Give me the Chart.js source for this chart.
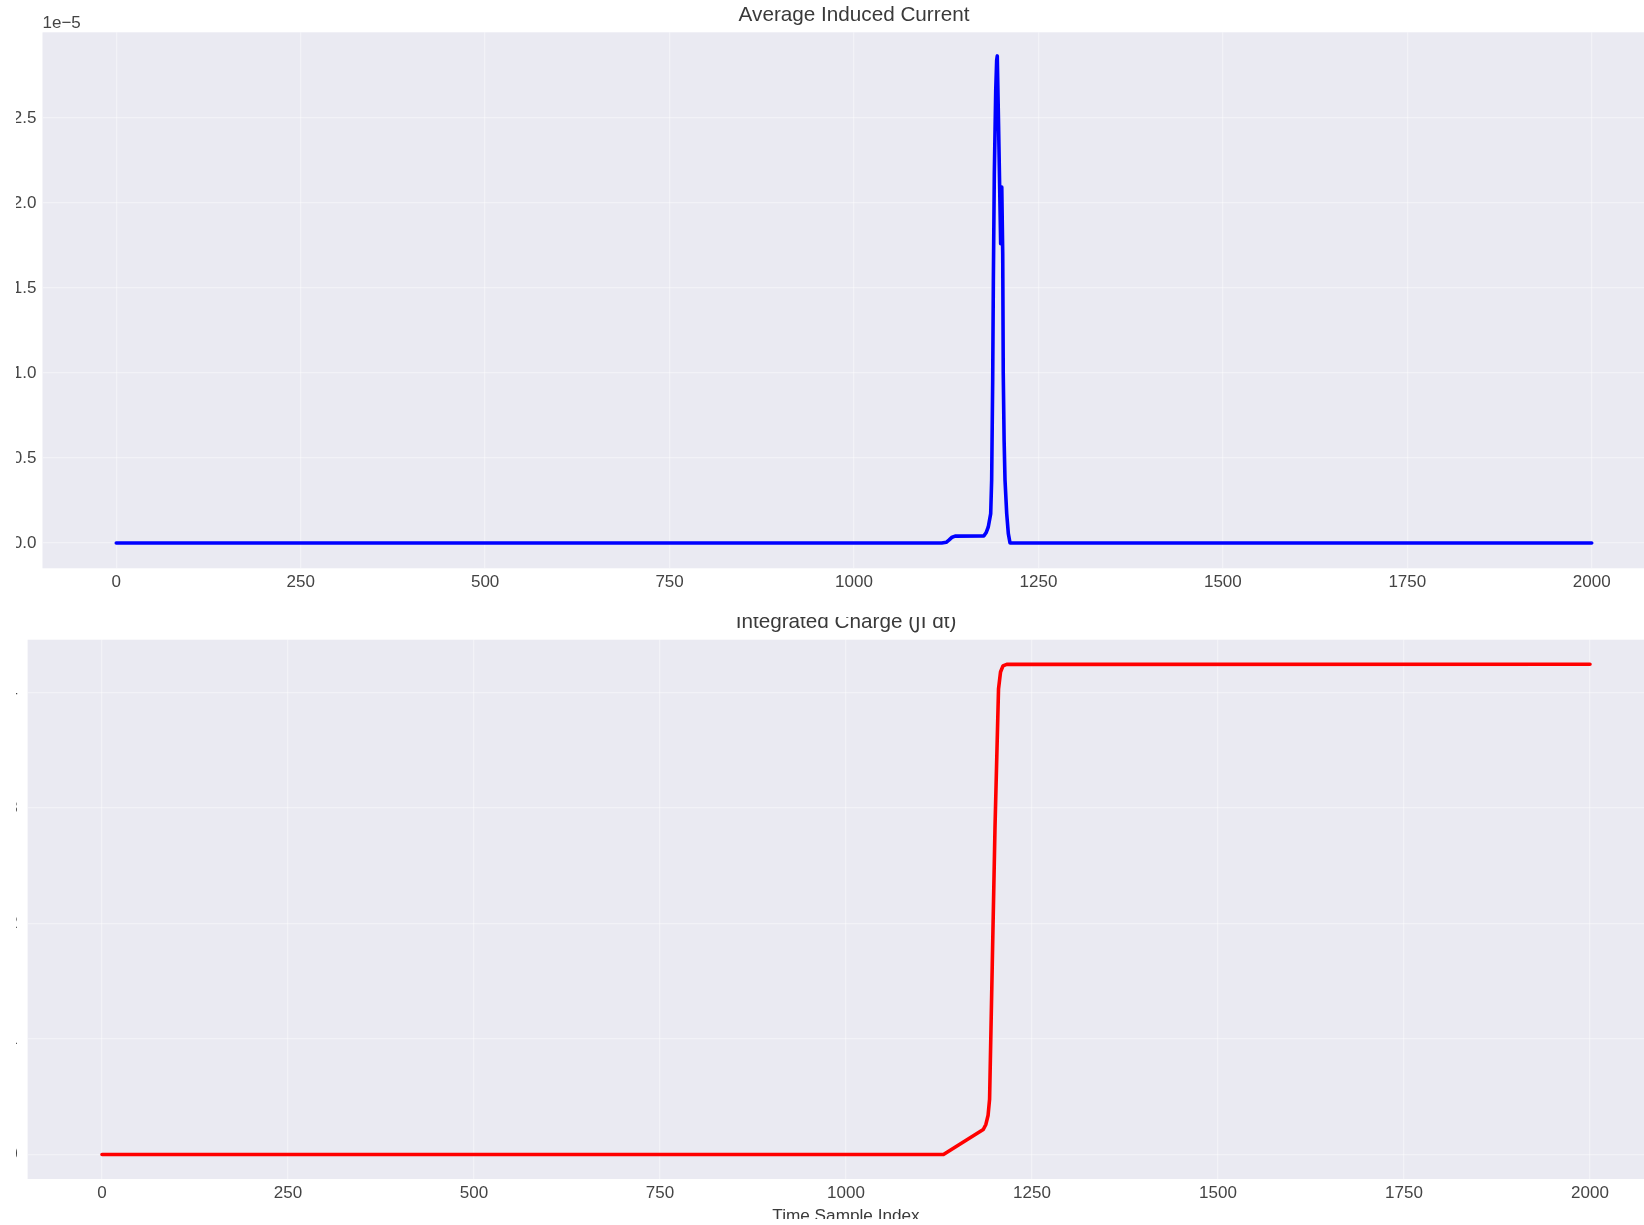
<!DOCTYPE html>
<html>
<head>
<meta charset="utf-8">
<title>Average Induced Current / Integrated Charge</title>
<script src="https://cdn.jsdelivr.net/npm/chart.js@4.4.1/dist/chart.umd.min.js"></script>
<style>
  html, body { margin: 0; padding: 0; background: #ffffff; width: 1644px; height: 1225px; overflow: hidden; }
  #fig { position: absolute; left: 16px; top: 0; width: 1628px; height: 1219px; overflow: hidden; }
  #currentCanvas { position: absolute; left: -16px; top: 0; }
  #chargeClip { position: absolute; left: 0; top: 617px; width: 1628px; height: 602px; overflow: hidden; }
  #chargeCanvas { position: absolute; left: -16px; top: -32px; }
</style>
</head>
<body>
<div id="fig">
  <canvas id="currentCanvas" width="1680" height="600"></canvas>
  <div id="chargeClip">
    <canvas id="chargeCanvas" width="1680" height="680"></canvas>
  </div>
</div>
<script>
// ---- data ----------------------------------------------------------------
const xTicks = [0, 250, 500, 750, 1000, 1250, 1500, 1750, 2000];

// average induced current (A) against time sample index
const currentSample = [0, 1119, 1125, 1129, 1133, 1137, 1176, 1179, 1182, 1185.3, 1186.6,
  1188, 1188.9, 1190.2, 1192.1, 1193.4, 1194.2, 1196, 1198.8, 1200.3, 1201.6, 1202.3,
  1203.5, 1204.7, 1207, 1209.2, 1211.5, 2000];
const currentValue = [0, 0, 0.04e-6, 0.18e-6, 0.34e-6, 0.40e-6, 0.42e-6, 0.6e-6, 0.94e-6, 1.73e-6, 3.7e-6,
  9.57e-6, 15.45e-6, 21.7e-6, 26.6e-6, 28.4e-6, 28.65e-6, 24.5e-6, 17.6e-6, 20.94e-6, 17.0e-6, 10.0e-6,
  6.0e-6, 3.7e-6, 1.73e-6, 0.55e-6, 0, 0];
const currentTicks = [0, 0.5e-5, 1.0e-5, 1.5e-5, 2.0e-5, 2.5e-5];
const currentTickLabels = ['0.0', '0.5', '1.0', '1.5', '2.0', '2.5'];

// running integral of the current
const chargeSample = [0, 1131, 1184.5, 1188, 1191, 1193, 1196.6, 1200.3, 1205, 1207.7, 1211, 1216, 2000];
const chargeValue = [0, 0, 0.216e-4, 0.26e-4, 0.34e-4, 0.48e-4, 1.645e-4, 2.84e-4, 4.03e-4, 4.177e-4,
  4.23e-4, 4.243e-4, 4.245e-4];
const chargeTicks = [0, 1e-4, 2e-4, 3e-4, 4e-4];
const chargeTickLabels = ['0.0000', '0.0001', '0.0002', '0.0003', '0.0004'];

// ---- styling ---------------------------------------------------------------
const FONT = '"Liberation Sans", Arial, "DejaVu Sans", sans-serif';
const TEXT = '#3a3a3a';
const TICK_TEXT = '#444444';
const GRID = 'rgba(255,255,255,0.38)';
const FACE = '#eaeaf2';

const plotBackground = {
  id: 'plotBackground',
  beforeDraw(chart) {
    const { ctx, chartArea: a } = chart;
    ctx.save();
    ctx.fillStyle = FACE;
    ctx.fillRect(a.left, a.top, a.right - a.left, a.bottom - a.top);
    ctx.restore();
  }
};

// exponent label above the value axis
const offsetText = {
  id: 'offsetText',
  afterDraw(chart, args, opts) {
    if (!opts.text) return;
    const { ctx, chartArea: a } = chart;
    ctx.save();
    ctx.font = '17px ' + FONT;
    ctx.fillStyle = TICK_TEXT;
    ctx.textAlign = 'left';
    ctx.textBaseline = 'alphabetic';
    ctx.fillText(opts.text, a.left, a.top - 4.6);
    ctx.restore();
  }
};

function points(xs, ys) {
  return xs.map((x, i) => ({ x: x, y: ys[i] }));
}

function buildPanel(canvasId, p) {
  const canvas = document.getElementById(canvasId);
  const H = canvas.height;
  return new Chart(canvas, {
    type: 'line',
    data: {
      datasets: [{
        data: points(p.xs, p.ys),
        borderColor: p.color,
        borderWidth: 3.6,
        pointRadius: 0,
        tension: 0,
        fill: false,
        borderJoinStyle: 'round',
        borderCapStyle: 'round'
      }]
    },
    options: {
      responsive: false,
      devicePixelRatio: 1,
      animation: false,
      events: [],
      parsing: false,
      layout: { padding: { left: 0, right: canvas.width - p.right, top: 0, bottom: 0 } },
      plugins: {
        legend: { display: false },
        tooltip: { enabled: false },
        title: {
          display: true,
          text: p.title,
          color: TEXT,
          fullSize: false,
          font: { family: FONT, size: 20.7, weight: 'normal', lineHeight: 1 },
          padding: { top: p.titleTop, bottom: 6.95 }
        },
        offsetText: { text: p.offset || '' }
      },
      scales: {
        x: {
          type: 'linear',
          min: -100,
          max: 2100,
          afterBuildTicks: s => { s.ticks = xTicks.map(v => ({ value: v })); },
          afterFit: s => { s.height = H - p.bottom; },
          grid: { color: GRID, lineWidth: 1.3, drawTicks: false },
          border: { display: false },
          ticks: {
            padding: p.xPad,
            color: TICK_TEXT,
            autoSkip: false,
            maxRotation: 0,
            font: { family: FONT, size: 17, lineHeight: 1.2 },
            callback: v => String(v)
          },
          title: p.xTitle ? {
            display: true,
            text: p.xTitle,
            color: TEXT,
            font: { family: FONT, size: 17.2, lineHeight: 1.2 },
            padding: { top: 0, bottom: p.xTitleBottom }
          } : { display: false }
        },
        y: {
          type: 'linear',
          min: p.yMin,
          max: p.yMax,
          afterBuildTicks: s => { s.ticks = p.yTicks.map(v => ({ value: v })); },
          afterFit: s => { s.width = p.left; },
          grid: { color: GRID, lineWidth: 1.3, drawTicks: false },
          border: { display: false },
          ticks: {
            padding: p.yPad,
            color: TICK_TEXT,
            autoSkip: false,
            font: { family: FONT, size: 17, lineHeight: 1.2 },
            callback: (v, i) => p.yLabels[i]
          }
        }
      }
    },
    plugins: [plotBackground, offsetText]
  });
}

buildPanel('currentCanvas', {
  xs: currentSample, ys: currentValue, color: '#0000ff',
  title: 'Average Induced Current', titleTop: 4.65, offset: '1e\u22125',
  left: 42.5, right: 1665.5, bottom: 568.3,
  yMin: -0.149e-5, yMax: 3.004e-5, yTicks: currentTicks, yLabels: currentTickLabels,
  xPad: 3.8, yPad: 6
});

buildPanel('chargeCanvas', {
  xs: chargeSample, ys: chargeValue, color: '#ff0000',
  title: 'Integrated Charge (\u222BI dt)', titleTop: 27.05,
  left: 27.6, right: 1664.4, bottom: 594,
  yMin: -0.2123e-4, yMax: 4.457e-4, yTicks: chargeTicks, yLabels: chargeTickLabels,
  xPad: 4.3, yPad: 9.8,
  xTitle: 'Time Sample Index', xTitleBottom: 38.5
});
</script>
</body>
</html>
